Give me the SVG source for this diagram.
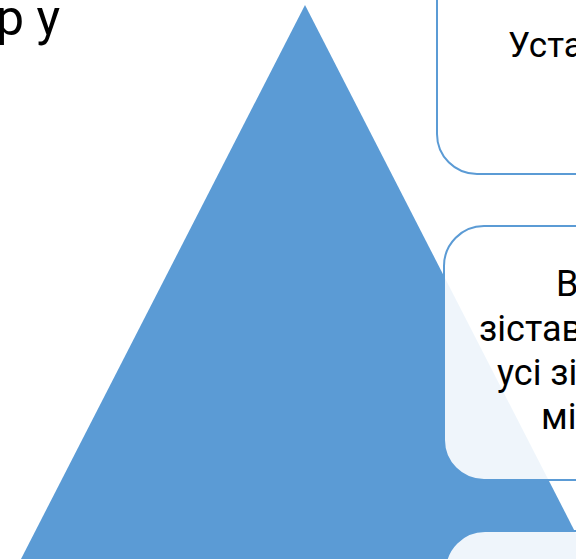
<svg xmlns="http://www.w3.org/2000/svg" width="576" height="559" viewBox="0 0 576 559">
  <style>
    .box { fill: #ffffff; fill-opacity: 0.9; stroke: #5B9BD5; stroke-width: 2; }
    .txt { font-family: Roboto, "Noto Sans", "Liberation Sans", sans-serif; fill: #000000; }
  </style>
  <rect x="0" y="0" width="576" height="559" fill="#ffffff"/>
  <g id="title">
    <text class="txt" x="-4" y="35" font-size="50">р у</text>
  </g>
  <g id="pyramid">
    <polygon points="305,5 21,559 589,559" fill="#5B9BD5"/>
  </g>
  <g id="connectors"></g>
  <g id="box1">
    <rect class="box" x="437" y="-120" width="220" height="294" rx="40" ry="40"/>
    <text class="txt" x="508" y="57" font-size="35">Уста</text>
  </g>
  <g id="box2">
    <rect class="box" x="444" y="226" width="220" height="254" rx="40" ry="40"/>
    <text class="txt" font-size="36">
      <tspan x="556" y="296">В</tspan>
      <tspan x="479" y="341">зістав</tspan>
      <tspan x="497" y="385">усі зі</tspan>
      <tspan x="541" y="429">мі</tspan>
    </text>
  </g>
  <g id="box3">
    <rect class="box" x="445" y="531" width="220" height="140" rx="40" ry="40"/>
  </g>
</svg>
